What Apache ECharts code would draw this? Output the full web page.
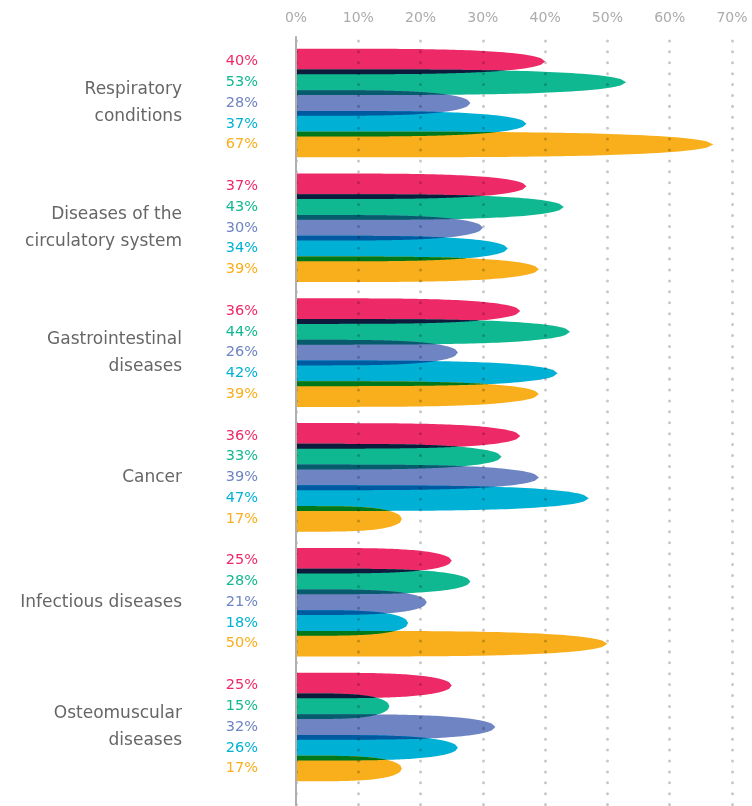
<!DOCTYPE html>
<html>
<head>
<meta charset="utf-8">
<script src="https://cdn.jsdelivr.net/npm/echarts@6/dist/echarts.min.js"></script>
<style>
  html, body { margin: 0; padding: 0; background: #fff; }
  #chart { width: 752px; height: 806px; }
</style>
</head>
<body>
<div id="chart"></div>
<script>
  // data
  var categories = [
    'Respiratory\nconditions',
    'Diseases of the\ncirculatory system',
    'Gastrointestinal\ndiseases',
    'Cancer',
    'Infectious diseases',
    'Osteomuscular\ndiseases'
  ];
  var seriesA = [40, 37, 36, 36, 25, 25];
  var seriesB = [53, 43, 44, 33, 28, 15];
  var seriesC = [28, 30, 26, 39, 21, 32];
  var seriesD = [37, 34, 42, 47, 18, 26];
  var seriesE = [67, 39, 39, 17, 50, 17];
  var tickValues = [0, 10, 20, 30, 40, 50, 60, 70];

  var colors = ['#ee2968', '#10b892', '#6e84c3', '#00b1d5', '#f9ae1b'];
  // colour where a bar overlaps the one above it (multiplied colours)
  var overlapColors = [null, '#0d1c3c', '#065c6c', '#005aa1', '#00781a'];
  var allSeries = [seriesA, seriesB, seriesC, seriesD, seriesE];

  var chart = echarts.init(document.getElementById('chart'));

  function shapeF(t) {
    if (t >= 1) return 0;
    return Math.sqrt(1 - Math.pow(t, 4));
  }

  // bullet shaped bar: flat left, tapering right end
  function makeRender(k) {
    return function (params, api) {
      var cat = api.value(0);
      var val = api.value(1);
      var band = api.size([0, 1])[1];
      var base = api.coord([0, cat]);
      var tip = api.coord([val, cat]);
      var step = band * 0.1663;
      var cy = base[1] + (k - 2) * step;
      var h = band * 0.205 / 2;
      var x0 = base[0];
      var len = tip[0] - x0;
      var pts = [];
      var n = 60, i, t;
      for (i = 0; i <= n; i++) {
        t = i / n;
        pts.push([x0 + len * t, cy - h * shapeF(t)]);
      }
      for (i = n; i >= 0; i--) {
        t = i / n;
        pts.push([x0 + len * t, cy + h * shapeF(t)]);
      }
      var children = [{
        type: 'polygon',
        shape: { points: pts },
        style: { fill: colors[k] }
      }];

      // overlap with the bar above
      if (k > 0) {
        var prevLen = api.coord([allSeries[k - 1][cat], cat])[0] - x0;
        var pcy = cy - step;
        var top = [], bot = [];
        var maxLen = Math.min(prevLen, len);
        var m = 200;
        for (i = 0; i <= m; i++) {
          var x = maxLen * i / m;
          var yTop = cy - h * shapeF(x / len);
          var yBot = pcy + h * shapeF(x / prevLen);
          if (yBot < yTop) break;
          top.push([x0 + x, yTop]);
          bot.push([x0 + x, yBot]);
        }
        if (top.length > 1) {
          children.push({
            type: 'polygon',
            shape: { points: top.concat(bot.reverse()) },
            style: { fill: overlapColors[k] }
          });
        }
      }

      children.push({
        type: 'text',
        style: {
          x: x0 - 38,
          y: cy,
          text: val + '%',
          fill: colors[k],
          align: 'right',
          verticalAlign: 'middle',
          font: '14.5px "DejaVu Sans"'
        }
      });
      return { type: 'group', children: children };
    };
  }

  var series = allSeries.map(function (vals, k) {
    return {
      type: 'custom',
      name: 'S' + (k + 1),
      xAxisIndex: 0,
      yAxisIndex: 0,
      z: 2,
      renderItem: makeRender(k),
      encode: { x: 1, y: 0 },
      data: vals.map(function (v, i) { return [i, v]; })
    };
  });

  chart.setOption({
    animation: false,
    grid: [
      { left: 296, right: 20, top: 40.6, height: 748.8 },
      { left: 296, right: 20, top: 37, bottom: 0 }
    ],
    xAxis: [{
      gridIndex: 0, type: 'value', min: 0, max: 70, show: false
    }, {
      gridIndex: 1, type: 'value', min: 0, max: 70, interval: 10,
      position: 'top', z: 10,
      axisLine: { show: false },
      axisTick: { show: false },
      axisLabel: {
        margin: 12, color: '#ababab', fontSize: 14, fontFamily: 'DejaVu Sans',
        customValues: tickValues,
        formatter: function (v) { return v + '%'; }
      },
      splitLine: {
        show: true,
        lineStyle: { color: 'rgba(0,0,0,0.22)', width: 3, type: [0.01, 10.9], cap: 'round', dashOffset: 7 }
      }
    }],
    yAxis: [{
      gridIndex: 0, type: 'category', inverse: true, data: categories,
      axisLine: { show: false },
      axisTick: { show: false },
      splitLine: { show: false },
      axisLabel: {
        margin: 114, color: '#666', fontSize: 17, fontFamily: 'DejaVu Sans',
        lineHeight: 27, align: 'right'
      }
    }, {
      gridIndex: 1, type: 'value', min: 0, max: 1, z: 11,
      axisLine: { show: true, lineStyle: { color: '#b0b0b0', width: 2 } },
      axisTick: { show: false },
      axisLabel: { show: false },
      splitLine: { show: false }
    }],
    series: series
  });
</script>
</body>
</html>
